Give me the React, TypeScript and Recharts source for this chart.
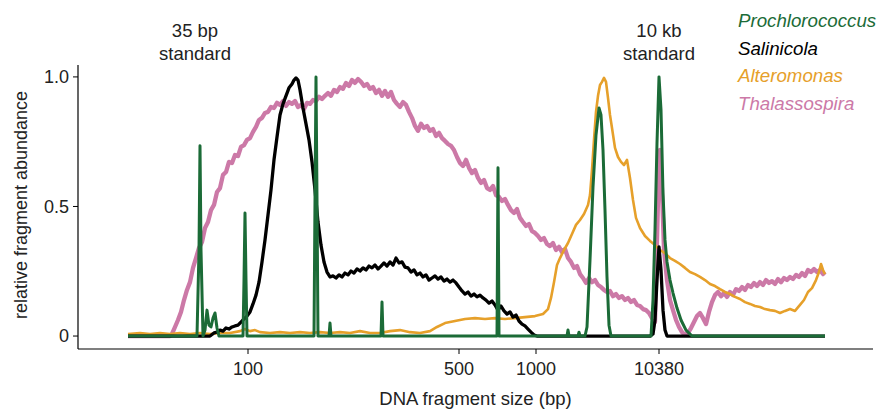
import React from "react";
import { LineChart, Line, XAxis, YAxis, ReferenceLine, Legend, Label } from "recharts";

// [migration time (s), relative fragment abundance]
const prochlorococcus: [number, number][] = [
  [5.0, 0], [11.9, 0], [12.1, 0.332], [12.2, 0.734], [12.3, 0.332], [12.5, 0],
  [12.7, 0.023], [12.9, 0.1], [13.1, 0.042], [13.3, 0.035], [13.5, 0.069], [13.7, 0.089],
  [13.9, 0.031], [14.1, 0], [16.5, 0], [16.6, 0.216], [16.7, 0.475], [16.8, 0.216],
  [16.9, 0], [23.6, 0], [23.7, 0.525], [23.8, 1.0], [23.9, 0.525], [24.0, 0],
  [25.1, 0], [25.2, 0.05], [25.3, 0], [30.3, 0], [30.4, 0.131], [30.5, 0],
  [41.9, 0], [42.0, 0.649], [42.1, 0], [48.9, 0], [49.0, 0.023], [49.1, 0],
  [50.0, 0], [50.1, 0.015], [50.2, 0], [50.7, 0], [50.9, 0.035], [51.2, 0.293],
  [51.5, 0.575], [51.8, 0.776], [52.1, 0.88], [52.3, 0.853], [52.5, 0.718], [52.7, 0.486],
  [52.9, 0.228], [53.1, 0.042], [53.3, 0], [57.3, 0], [57.5, 0.139], [57.7, 0.409],
  [57.9, 0.745], [58.1, 1.0], [58.3, 0.873], [58.5, 0.552], [58.7, 0.371], [58.9, 0.286],
  [59.2, 0.216], [59.5, 0.166], [59.9, 0.108], [60.3, 0.062], [60.8, 0.023], [61.4, 0],
  [74.7, 0],
];

const salinicola: [number, number][] = [
  [5.0, 0], [12.2, 0], [13.2, 0], [13.6, 0.012], [13.9, 0.015], [14.2, 0.023],
  [14.5, 0.019], [14.8, 0.031], [15.1, 0.027], [15.4, 0.035], [15.7, 0.039], [16.0, 0.042],
  [16.3, 0.054], [16.6, 0.066], [16.9, 0.077], [17.2, 0.093], [17.5, 0.124], [17.8, 0.158],
  [18.1, 0.208], [18.4, 0.286], [18.7, 0.371], [19.0, 0.467], [19.3, 0.564], [19.6, 0.68],
  [19.9, 0.768], [20.2, 0.853], [20.5, 0.896], [20.8, 0.927], [21.1, 0.958], [21.4, 0.973],
  [21.6, 0.988], [21.8, 0.996], [22.0, 0.988], [22.2, 0.95], [22.5, 0.88], [22.8, 0.819],
  [23.1, 0.757], [23.4, 0.672], [23.7, 0.564], [24.0, 0.44], [24.3, 0.351], [24.6, 0.286],
  [24.9, 0.247], [25.2, 0.228], [25.5, 0.232], [25.8, 0.224], [26.1, 0.236], [26.4, 0.228],
  [26.7, 0.243], [27.0, 0.236], [27.3, 0.251], [27.6, 0.243], [27.9, 0.259], [28.2, 0.251],
  [28.5, 0.263], [28.8, 0.255], [29.1, 0.27], [29.4, 0.263], [29.7, 0.274], [30.0, 0.259],
  [30.3, 0.27], [30.6, 0.282], [30.9, 0.27], [31.2, 0.286], [31.5, 0.274], [31.8, 0.301],
  [32.1, 0.282], [32.4, 0.286], [32.7, 0.266], [33.0, 0.263], [33.3, 0.247], [33.6, 0.255],
  [33.9, 0.236], [34.2, 0.243], [34.5, 0.228], [34.8, 0.236], [35.1, 0.216], [35.4, 0.224],
  [35.7, 0.232], [36.0, 0.22], [36.3, 0.228], [36.6, 0.212], [36.9, 0.22], [37.2, 0.208],
  [37.5, 0.216], [37.8, 0.205], [38.1, 0.189], [38.4, 0.174], [38.7, 0.162], [39.0, 0.17],
  [39.3, 0.154], [39.6, 0.162], [39.9, 0.151], [40.2, 0.158], [40.5, 0.147], [40.8, 0.139],
  [41.1, 0.127], [41.4, 0.135], [41.7, 0.12], [42.0, 0.1], [42.3, 0.116], [42.6, 0.097],
  [42.9, 0.085], [43.2, 0.093], [43.5, 0.073], [43.8, 0.081], [44.1, 0.058], [44.4, 0.046],
  [44.7, 0.039], [45.0, 0.027], [45.3, 0.015], [45.6, 0.004], [45.9, 0], [57.2, 0],
  [57.5, 0.008], [57.7, 0.062], [57.9, 0.216], [58.1, 0.344], [58.3, 0.255], [58.5, 0.1],
  [58.7, 0.023], [58.9, 0], [74.7, 0],
];

const alteromonas: [number, number][] = [
  [5.0, 0.008], [6.2, 0.012], [7.2, 0.008], [8.2, 0.012], [9.2, 0.008], [10.2, 0.012],
  [11.2, 0.008], [12.2, 0.012], [13.2, 0.008], [14.2, 0.012], [15.2, 0.012], [16.2, 0.019],
  [16.7, 0.027], [17.2, 0.019], [17.7, 0.023], [18.2, 0.015], [19.2, 0.012], [20.2, 0.015],
  [21.2, 0.012], [22.2, 0.015], [23.2, 0.012], [24.2, 0.015], [25.2, 0.012], [26.2, 0.015],
  [27.2, 0.012], [28.2, 0.019], [29.2, 0.012], [30.2, 0.012], [31.2, 0.019], [32.2, 0.023],
  [33.2, 0.015], [34.2, 0.012], [35.2, 0.019], [35.9, 0.035], [36.7, 0.05], [37.7, 0.058],
  [38.7, 0.066], [39.7, 0.069], [40.7, 0.066], [41.7, 0.069], [42.7, 0.066], [43.7, 0.069],
  [44.7, 0.073], [45.7, 0.077], [46.5, 0.085], [47.0, 0.104], [47.3, 0.147], [47.6, 0.208],
  [47.9, 0.274], [48.2, 0.301], [48.6, 0.332], [49.0, 0.359], [49.4, 0.394], [49.8, 0.429],
  [50.2, 0.448], [50.6, 0.471], [51.0, 0.506], [51.2, 0.544], [51.4, 0.641], [51.6, 0.757],
  [51.8, 0.865], [52.0, 0.927], [52.2, 0.969], [52.4, 0.981], [52.6, 0.996], [52.8, 0.981],
  [53.0, 0.919], [53.2, 0.853], [53.4, 0.803], [53.7, 0.726], [54.0, 0.691], [54.3, 0.672],
  [54.6, 0.66], [54.9, 0.68], [55.2, 0.61], [55.5, 0.525], [55.8, 0.456], [56.2, 0.417],
  [56.7, 0.386], [57.2, 0.367], [57.7, 0.351], [58.2, 0.332], [58.7, 0.32], [59.2, 0.301],
  [59.7, 0.29], [60.2, 0.278], [60.7, 0.263], [61.2, 0.247], [61.7, 0.239], [62.2, 0.228],
  [62.7, 0.216], [63.2, 0.201], [63.7, 0.193], [64.2, 0.181], [64.7, 0.17], [65.2, 0.162],
  [65.7, 0.151], [66.2, 0.143], [66.7, 0.131], [67.2, 0.124], [67.7, 0.116], [68.2, 0.112],
  [68.7, 0.104], [69.2, 0.1], [69.7, 0.097], [70.2, 0.089], [70.7, 0.097], [71.2, 0.104],
  [71.7, 0.097], [72.2, 0.12], [72.6, 0.139], [73.0, 0.17], [73.4, 0.185], [73.8, 0.216],
  [74.1, 0.247], [74.3, 0.278], [74.5, 0.255], [74.7, 0.239],
];

const thalassospira: [number, number][] = [
  [5.0, 0], [9.2, 0], [9.4, 0.008], [9.7, 0.035], [10.0, 0.062], [10.3, 0.093],
  [10.6, 0.139], [10.9, 0.178], [11.2, 0.208], [11.5, 0.263], [11.8, 0.301], [12.1, 0.34],
  [12.4, 0.363], [12.7, 0.417], [13.0, 0.44], [13.3, 0.486], [13.6, 0.506], [13.9, 0.556],
  [14.2, 0.571], [14.5, 0.622], [14.8, 0.633], [15.1, 0.672], [15.4, 0.668], [15.7, 0.699],
  [16.0, 0.695], [16.3, 0.73], [16.6, 0.737], [16.9, 0.757], [17.2, 0.764], [17.5, 0.788],
  [17.8, 0.807], [18.1, 0.834], [18.4, 0.842], [18.7, 0.861], [19.0, 0.865], [19.3, 0.884],
  [19.6, 0.88], [19.9, 0.9], [20.2, 0.892], [20.5, 0.907], [20.8, 0.888], [21.1, 0.903],
  [21.4, 0.896], [21.7, 0.907], [22.0, 0.884], [22.3, 0.892], [22.6, 0.876], [22.9, 0.9],
  [23.2, 0.896], [23.5, 0.911], [23.8, 0.907], [24.1, 0.923], [24.4, 0.915], [24.7, 0.927],
  [25.0, 0.938], [25.3, 0.927], [25.6, 0.95], [25.9, 0.942], [26.2, 0.961], [26.5, 0.954],
  [26.8, 0.977], [27.1, 0.965], [27.4, 0.988], [27.7, 0.977], [28.0, 0.992], [28.3, 0.981],
  [28.6, 0.965], [28.9, 0.973], [29.2, 0.954], [29.5, 0.961], [29.8, 0.938], [30.1, 0.95],
  [30.4, 0.927], [30.7, 0.946], [31.0, 0.923], [31.3, 0.942], [31.6, 0.911], [31.9, 0.896],
  [32.2, 0.884], [32.5, 0.903], [32.8, 0.892], [33.1, 0.865], [33.4, 0.842], [33.7, 0.811],
  [34.0, 0.792], [34.3, 0.819], [34.6, 0.803], [34.9, 0.811], [35.2, 0.792], [35.5, 0.799],
  [35.8, 0.772], [36.1, 0.784], [36.4, 0.764], [36.7, 0.753], [37.0, 0.741], [37.3, 0.734],
  [37.6, 0.718], [37.9, 0.691], [38.2, 0.668], [38.5, 0.656], [38.8, 0.68], [39.1, 0.649],
  [39.4, 0.629], [39.7, 0.641], [40.0, 0.61], [40.3, 0.591], [40.6, 0.602], [40.9, 0.571],
  [41.2, 0.564], [41.5, 0.579], [41.8, 0.544], [42.1, 0.537], [42.4, 0.521], [42.7, 0.529],
  [43.0, 0.506], [43.3, 0.486], [43.6, 0.475], [43.9, 0.49], [44.2, 0.456], [44.5, 0.44],
  [44.8, 0.425], [45.1, 0.432], [45.4, 0.405], [45.7, 0.398], [46.0, 0.386], [46.3, 0.371],
  [46.6, 0.378], [46.9, 0.355], [47.2, 0.347], [47.5, 0.359], [47.8, 0.332], [48.1, 0.344],
  [48.4, 0.324], [48.7, 0.336], [49.0, 0.301], [49.3, 0.286], [49.6, 0.263], [49.9, 0.27],
  [50.2, 0.239], [50.5, 0.224], [50.8, 0.205], [51.1, 0.224], [51.4, 0.208], [51.7, 0.216],
  [52.0, 0.197], [52.3, 0.189], [52.6, 0.178], [52.9, 0.17], [53.2, 0.174], [53.5, 0.154],
  [53.8, 0.162], [54.1, 0.147], [54.4, 0.154], [54.7, 0.139], [55.0, 0.147], [55.3, 0.131],
  [55.6, 0.139], [55.9, 0.12], [56.2, 0.116], [56.5, 0.104], [56.8, 0.1], [57.1, 0.089],
  [57.4, 0.069], [57.7, 0.054], [58.0, 0.525], [58.2, 0.718], [58.4, 0.564], [58.6, 0.332],
  [58.9, 0.216], [59.2, 0.139], [59.5, 0.1], [59.8, 0.062], [60.1, 0.035], [60.4, 0.015],
  [60.7, 0.004], [61.0, 0.012], [61.3, 0.031], [61.6, 0.054], [61.9, 0.077], [62.2, 0.089],
  [62.5, 0.069], [62.8, 0.046], [63.1, 0.093], [63.4, 0.131], [63.7, 0.158], [64.0, 0.17],
  [64.3, 0.154], [64.6, 0.166], [64.9, 0.151], [65.2, 0.17], [65.5, 0.158], [65.8, 0.181],
  [66.1, 0.174], [66.4, 0.189], [66.7, 0.178], [67.0, 0.197], [67.3, 0.189], [67.6, 0.205],
  [67.9, 0.193], [68.2, 0.208], [68.5, 0.197], [68.8, 0.216], [69.1, 0.205], [69.4, 0.212],
  [69.7, 0.201], [70.0, 0.22], [70.3, 0.208], [70.6, 0.224], [70.9, 0.216], [71.2, 0.228],
  [71.5, 0.22], [71.8, 0.236], [72.1, 0.228], [72.4, 0.243], [72.7, 0.232], [73.0, 0.255],
  [73.3, 0.247], [73.6, 0.259], [73.9, 0.247], [74.2, 0.255], [74.5, 0.239], [74.7, 0.247],
];

const species = ["Prochlorococcus", "Salinicola", "Alteromonas", "Thalassospira"];
const speciesColors = ["#1b6b37", "#000000", "#e6a02a", "#cc79a7"];
const speciesWidths = [3, 3.3, 2.6, 4.3];
const speciesTraces = [prochlorococcus, salinicola, alteromonas, thalassospira];

// size ladder: migration time of each labelled fragment size
const sizeTickTimes = [17.0, 38.1, 45.8, 58.1];
const sizeTickLabels = ["100", "500", "1000", "10380"];

const abundanceTicks = [0, 0.5, 1];
const abundanceTickLabels = ["0", "0.5", "1.0"];

const standardTimes = [11.7, 58.1];
const standardLabels = [
  ["35 bp", "standard"],
  ["10 kb", "standard"],
];

const FONT = '"Liberation Sans", Arial, Helvetica, sans-serif';
const TEXT = "#222";

function StandardLabel(props: any) {
  const { viewBox, lines } = props;
  if (!viewBox) return null;
  return (
    <text x={viewBox.x} textAnchor="middle" fontSize={18.5} fill={TEXT} fontFamily={FONT}>
      <tspan x={viewBox.x} y={viewBox.y - 28}>{lines[0]}</tspan>
      <tspan x={viewBox.x} y={viewBox.y - 5}>{lines[1]}</tspan>
    </text>
  );
}

function SpeciesLegend(props: any) {
  const items = [...(props.payload ?? [])].sort(
    (a: any, b: any) => species.indexOf(a.value) - species.indexOf(b.value)
  );
  return (
    <div style={{ fontStyle: "italic", fontSize: 18.7, lineHeight: "27.7px", fontFamily: FONT }}>
      {items.map((it: any) => (
        <div key={it.value} style={{ color: it.color, whiteSpace: "nowrap" }}>
          {it.value}
        </div>
      ))}
    </div>
  );
}

export default function App() {
  const series = species
    .map((name, i) => ({
      name,
      color: speciesColors[i],
      width: speciesWidths[i],
      data: speciesTraces[i].map(([t, v]) => ({ t, v })),
    }))
    .reverse(); // Prochlorococcus drawn last, on top

  return (
    <div
      style={{
        position: "absolute",
        left: 0,
        top: 0,
        width: 879,
        height: 410,
        background: "#fff",
        fontFamily: FONT,
      }}
    >
      <LineChart width={879} height={410} margin={{ top: 65, right: 6, bottom: 31, left: 0 }}>
        <XAxis
          dataKey="t"
          type="number"
          domain={[0, 79.5]}
          ticks={sizeTickTimes}
          tickFormatter={(v: number) => sizeTickLabels[sizeTickTimes.indexOf(v)] ?? ""}
          axisLine={{ stroke: "#000", strokeWidth: 1.2 }}
          tickLine={{ stroke: "#000" }}
          tickSize={5}
          tickMargin={8}
          tick={{ fill: TEXT, fontSize: 18, fontFamily: FONT }}
          height={30}
        >
          <Label
            content={(p: any) => (
              <text
                x={p.viewBox.x + p.viewBox.width / 2}
                y={p.viewBox.y + 56}
                textAnchor="middle"
                fontSize={18.5}
                fill={TEXT}
                fontFamily={FONT}
              >
                DNA fragment size (bp)
              </text>
            )}
          />
        </XAxis>
        <YAxis
          type="number"
          domain={[-0.05, 1.046]}
          ticks={abundanceTicks}
          tickFormatter={(v: number) => abundanceTickLabels[abundanceTicks.indexOf(v)] ?? ""}
          axisLine={{ stroke: "#000", strokeWidth: 1.2 }}
          tickLine={{ stroke: "#000" }}
          tickSize={5}
          tickMargin={4}
          tick={{ fill: TEXT, fontSize: 18, fontFamily: FONT }}
          width={78}
        >
          <Label
            content={(p: any) => {
              const cx = p.viewBox.x + 27;
              const cy = p.viewBox.y + p.viewBox.height / 2 - 2;
              return (
                <text
                  x={cx}
                  y={cy}
                  textAnchor="middle"
                  transform={`rotate(-90, ${cx}, ${cy})`}
                  fontSize={18}
                  fill={TEXT}
                  fontFamily={FONT}
                >
                  relative fragment abundance
                </text>
              );
            }}
          />
        </YAxis>
        {standardTimes.map((t, i) => (
          <ReferenceLine
            key={i}
            x={t}
            stroke="none"
            label={<StandardLabel lines={standardLabels[i]} />}
          />
        ))}
        {series.map((s) => (
          <Line
            key={s.name}
            data={s.data}
            dataKey="v"
            name={s.name}
            type="linear"
            stroke={s.color}
            strokeWidth={s.width}
            strokeLinejoin="round"
            dot={false}
            activeDot={false}
            isAnimationActive={false}
          />
        ))}
        <Legend
          layout="horizontal"
          verticalAlign="middle"
          align="center"
          width={141}
          wrapperStyle={{ top: 7, left: 738, width: 141 }}
          content={<SpeciesLegend />}
        />
      </LineChart>
    </div>
  );
}
